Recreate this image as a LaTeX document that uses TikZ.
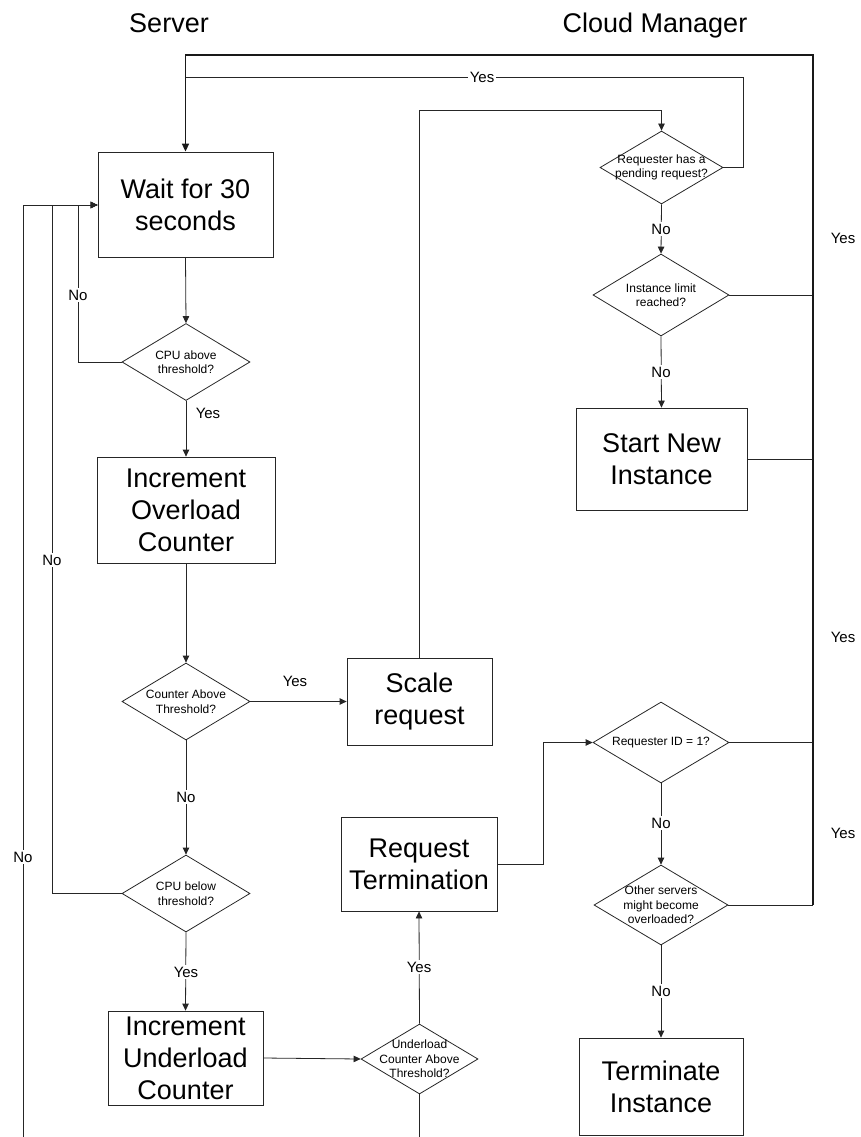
\documentclass[tikz,border=0pt]{standalone}
\usepackage{fontspec}
\setmainfont{Liberation Sans}
\usetikzlibrary{shapes.geometric,arrows.meta}
\begin{document}
\begin{tikzpicture}[x=1pt,y=-1pt,
  line/.style={draw=black!85, line width=0.8pt},
  flow/.style={line, -{Triangle[length=7pt,width=6.5pt]}},
  mainloop/.style={draw=black!90, line width=1.6pt},
  box/.style={draw=black!85, line width=0.8pt, rectangle, inner sep=0pt,
    align=center, font=\fontsize{27}{32}\selectfont},
  dec/.style={draw=black!85, line width=0.8pt, diamond, inner sep=0pt},
  dtext/.style={align=center, inner sep=0pt, font=\fontsize{12}{14.5}\selectfont},
  lbl/.style={inner sep=1.5pt, fill=white, font=\fontsize{15}{17}\selectfont},
  lblfree/.style={inner sep=0pt, font=\fontsize{15}{17}\selectfont},
  heading/.style={inner sep=0pt, anchor=base, font=\fontsize{27}{32}\selectfont}]

\useasboundingbox (0,0) rectangle (860,1137);

% column headings
\node[heading] (hserver) at (169,33) {Server};
\node[heading] (hcloud) at (655,33) {Cloud Manager};

% ---- server column ----
\node[box, minimum width=175pt, minimum height=105pt] (wait) at (185.5,204.5) {Wait for 30\\seconds};
\node[dec, minimum width=128pt, minimum height=77pt] (cpuabove) at (186,362) {};
\node[dtext] (cpuabovet) at (cpuabove) {CPU above\\threshold?};
\node[box, minimum width=178pt, minimum height=106pt] (incover) at (186,510) {Increment\\Overload\\Counter};
\node[dec, minimum width=128pt, minimum height=77pt] (cntabove) at (186,701.5) {};
\node[dtext] (cntabovet) at (cntabove) {Counter Above\\Threshold?};
\node[dec, minimum width=128pt, minimum height=77pt] (cpubelow) at (186,893.5) {};
\node[dtext] (cpubelowt) at (cpubelow) {CPU below\\threshold?};
\node[box, minimum width=155pt, minimum height=94pt] (incunder) at (185.5,1058) {Increment\\Underload\\Counter};

% ---- middle column ----
\node[box, minimum width=145pt, minimum height=87pt] (scale) at (419.5,701.5) {Scale\\request};
\node[box, minimum width=156pt, minimum height=94pt] (reqterm) at (419,864) {Request\\Termination};
\node[dec, minimum width=117pt, minimum height=70pt] (undabove) at (419.5,1059) {};
\node[dtext] (undabovet) at (undabove) {Underload\\Counter Above\\Threshold?};

% ---- cloud manager column ----
\node[dec, minimum width=123pt, minimum height=73pt] (pending) at (661.5,167.5) {};
\node[dtext] (pendingt) at (pending) {Requester has a\\pending request?};
\node[dec, minimum width=136pt, minimum height=82pt] (limit) at (661,295) {};
\node[dtext] (limitt) at (limit) {Instance limit\\reached?};
\node[box, minimum width=171pt, minimum height=102pt] (start) at (661.5,459) {Start New\\Instance};
\node[dec, minimum width=136pt, minimum height=81pt] (reqid) at (661,742.5) {};
\node[dtext] (reqidt) at (reqid) {Requester ID = 1?};
\node[dec, minimum width=134pt, minimum height=80pt] (others) at (661,905) {};
\node[dtext] (otherst) at (others) {Other servers\\might become\\overloaded?};
\node[box, minimum width=164pt, minimum height=97pt] (term) at (661,1086.5) {Terminate\\Instance};

% routing points
\coordinate (jin) at (98,205);
\coordinate (lane1) at (78,205);
\coordinate (lane2) at (52,205);
\coordinate (lane3) at (23,205);
\coordinate (lane3end) at (23,1137);
\coordinate (undout) at (419.5,1137);
\coordinate (bus) at (813,905);
\coordinate (bustop) at (813,55);
\coordinate (yesturn) at (743,77);
\coordinate (scaleturn) at (419.5,110);
\coordinate (termturn) at (543,864);

% ---- server connectors ----
\draw[flow] (wait.south) -- (cpuabove.north);
\draw[flow] (cpuabove.south) -- (incover.north);
\draw[flow] (cpuabove.west) -| (lane1) -- (wait.west |- jin);
\draw[flow] (incover.south) -- (cntabove.north);
\draw[flow] (cntabove.east) -- (scale.west |- cntabove.east);
\draw[flow] (cntabove.south) -- (cpubelow.north);
\draw[flow] (cpubelow.west) -| (lane2) -- (wait.west |- jin);
\draw[flow] (cpubelow.south) -- (incunder.north);
\draw[flow] (incunder.east) -- (undabove.west);
\draw[flow] (undabove.north) -- (reqterm.south);
\draw[line] (undabove.south) -- (undout);
\draw[flow] (lane3end) -- (lane3) -- (wait.west |- jin);

% ---- requests to the cloud manager ----
\draw[flow] (scale.north) -- (scaleturn) -| (pending.north);
\draw[flow] (reqterm.east) -- (termturn) |- (reqid.west);

% ---- cloud manager connectors ----
\draw[line] (pending.east) -| (yesturn) -- (wait.north |- yesturn);
\draw[flow] (pending.south) -- (limit.north);
\draw[flow] (limit.south) -- (start.north);
\draw[line] (limit.east) -- (limit.east -| bus);
\draw[line] (start.east) -- (start.east -| bus);
\draw[line] (reqid.east) -- (reqid.east -| bus);
\draw[flow] (reqid.south) -- (others.north);
\draw[flow] (others.south) -- (term.north);
\draw[line] (others.east) -- (bus);
\draw[mainloop, -{Triangle[length=8pt,width=7pt]}] (bus) -- (bustop) -| (wait.north);

% ---- branch labels ----
\node[lbl] (l1) at (78,295) {No};
\node[lblfree] (l2) at (208,413) {Yes};
\node[lbl] (l3) at (52,560) {No};
\node[lblfree] (l4) at (295,681) {Yes};
\node[lbl] (l5) at (186,797) {No};
\node[lbl] (l6) at (23,857) {No};
\node[lbl] (l7) at (186,972) {Yes};
\node[lbl] (l8) at (419,967) {Yes};
\node[lbl] (l9) at (482,77) {Yes};
\node[lbl] (l10) at (661,229) {No};
\node[lbl] (l11) at (661,372) {No};
\node[lbl] (l12) at (661,823) {No};
\node[lbl] (l13) at (661,991) {No};
\node[lblfree] (l14) at (843,238) {Yes};
\node[lblfree] (l15) at (843,637) {Yes};
\node[lblfree] (l16) at (843,833) {Yes};
\end{tikzpicture}
\end{document}
